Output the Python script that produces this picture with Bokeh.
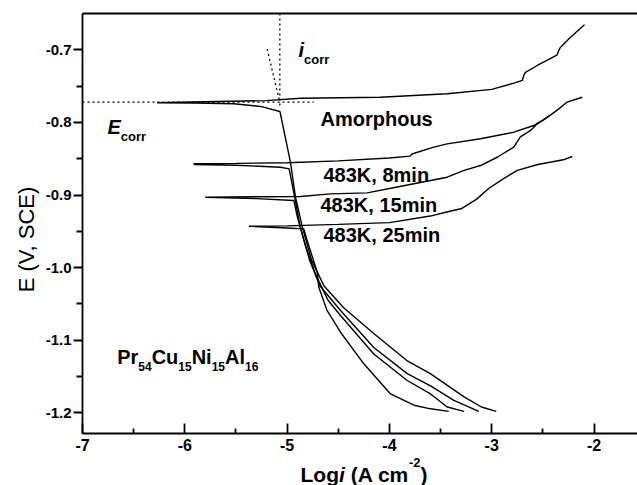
import math
from bokeh.plotting import figure
from bokeh.layouts import row, column
from bokeh.models import Range1d, LinearAxis, FixedTicker, Label
from bokeh.embed import file_html
from bokeh.resources import INLINE

# ---------------- data (log i in A cm^-2, E in V vs SCE) ----------------
# Amorphous: cathodic branch (bottom -> Ecorr) then anodic branch
amorph_cat_logi = [-2.956, -3.10, -3.27, -3.60, -3.83, -4.15, -4.45, -4.64, -4.76, -4.85, -4.918, -4.967, -5.07, -5.26, -5.52, -5.90, -6.27]
amorph_cat_E = [-1.198, -1.192, -1.178, -1.146, -1.128, -1.091, -1.055, -1.025, -0.990, -0.945, -0.903, -0.855, -0.785, -0.778, -0.7744, -0.7735, -0.773]
amorph_an_logi = [-6.27, -5.80, -5.20, -4.87, -4.09, -3.435, -3.0, -2.784, -2.70, -2.686, -2.67, -2.555, -2.40, -2.36, -2.345, -2.327, -2.262, -2.23, -2.093]
amorph_an_E = [-0.773, -0.7715, -0.770, -0.7667, -0.7653, -0.7606, -0.7545, -0.746, -0.742, -0.735, -0.731, -0.7216, -0.710, -0.707, -0.701, -0.6964, -0.6872, -0.6826, -0.6656]

# 483K, 8 min
m8_cat_logi = [-3.126, -3.37, -3.598, -3.826, -4.153, -4.478, -4.68, -4.78, -4.87, -4.93, -4.98, -5.065, -5.5, -5.91]
m8_cat_E = [-1.198, -1.183, -1.163, -1.146, -1.110, -1.059, -1.025, -0.990, -0.945, -0.900, -0.864, -0.8617, -0.859, -0.858]
m8_an_logi = [-5.91, -5.5, -5.0, -4.5, -4.0, -3.80, -3.78, -3.566, -3.435, -3.11, -2.784, -2.59, -2.50, -2.44]
m8_an_E = [-0.857, -0.8565, -0.8555, -0.853, -0.849, -0.8465, -0.8435, -0.834, -0.8295, -0.8226, -0.8135, -0.8043, -0.797, -0.791]

# 483K, 15 min
m15_cat_logi = [-3.27, -3.435, -3.598, -3.826, -4.153, -4.478, -4.60, -4.72, -4.82, -4.90, -4.934, -5.3, -5.80]
m15_cat_E = [-1.198, -1.192, -1.174, -1.1555, -1.119, -1.066, -1.045, -1.010, -0.970, -0.930, -0.9076, -0.905, -0.903]
m15_an_logi = [-5.80, -5.3, -4.869, -4.576, -4.217, -3.924, -3.598, -3.435, -3.27, -3.11, -2.946, -2.784, -2.72, -2.62, -2.555, -2.457, -2.35, -2.263, -2.115]
m15_an_E = [-0.903, -0.9025, -0.902, -0.8985, -0.897, -0.889, -0.880, -0.8755, -0.866, -0.8594, -0.848, -0.834, -0.820, -0.811, -0.802, -0.793, -0.782, -0.772, -0.7653]

# 483K, 25 min
m25_cat_logi = [-3.42, -3.598, -3.75, -3.989, -4.25, -4.478, -4.61, -4.69, -4.706, -4.81, -4.837, -5.0, -5.374]
m25_cat_E = [-1.198, -1.1945, -1.190, -1.174, -1.1325, -1.089, -1.059, -1.027, -1.006, -0.960, -0.9466, -0.9455, -0.943]
m25_an_logi = [-5.374, -5.0, -4.5, -4.0, -3.6, -3.4, -3.3, -3.15, -3.03, -2.88, -2.75, -2.55, -2.30, -2.213]
m25_an_E = [-0.943, -0.9425, -0.9405, -0.938, -0.929, -0.922, -0.919, -0.906, -0.891, -0.877, -0.866, -0.858, -0.8515, -0.847]

# Tafel construction (dotted)
ecorr_line_logi = [-7.0, -4.74]
ecorr_line_E = [-0.772, -0.772]
icorr_line_logi = [-5.071, -5.071]
icorr_line_E = [-0.65, -0.781]
tafel_line_logi = [-5.195, -5.07]
tafel_line_E = [-0.699, -0.773]

x_ticks = [-7, -6, -5, -4, -3, -2]
x_tick_labels = ["-7", "-6", "-5", "-4", "-3", "-2"]
x_minor = [-6.5, -5.5, -4.5, -3.5, -2.5]
y_ticks = [-1.2, -1.1, -1.0, -0.9, -0.8, -0.7]
y_tick_labels = ["-1.2", "-1.1", "-1.0", "-0.9", "-0.8", "-0.7"]
y_minor = [-1.15, -1.05, -0.95, -0.85, -0.75]

# ---------------- layout (page pixels) ----------------
PAGE_W, PAGE_H = 637, 485
LEFT_W = 40                 # strip holding the y title
MAIN_H = 455                # main figure height
FRAME_L, FRAME_T, FRAME_B = 82, 13, 433   # frame edges on the page
X0, X1 = -7.0, -1.575
Y0, Y1 = -1.2285, -0.65
FW = PAGE_W - FRAME_L
FH = FRAME_B - FRAME_T
FONT = "Liberation Sans"
BASE_FIX = 0.3   # Bokeh places the 'alphabetic' anchor ~0.3 em above the real baseline


def px2x(px):
    return X0 + (px - FRAME_L) * (X1 - X0) / FW


def py2y(py):
    return Y1 - (py - FRAME_T) * (Y1 - Y0) / FH


p = figure(width=PAGE_W - LEFT_W, height=MAIN_H, title=None,
           x_range=Range1d(X0, X1), y_range=Range1d(Y0, Y1),
           output_backend="svg", toolbar_location=None,
           min_border_left=FRAME_L - LEFT_W, min_border_right=0,
           min_border_top=FRAME_T, min_border_bottom=MAIN_H - FRAME_B)
p.grid.visible = False
p.outline_line_color = None
p.background_fill_color = "white"
p.border_fill_color = "white"

xa = p.xaxis[0]
xa.ticker = FixedTicker(ticks=x_ticks, minor_ticks=x_minor)
xa.major_label_overrides = {t: s for t, s in zip(x_ticks, x_tick_labels)}
xa.major_tick_in = 10
xa.major_tick_out = 0
xa.minor_tick_in = 5
xa.minor_tick_out = 0
xa.axis_line_width = 1.8
xa.major_tick_line_width = 1.8
xa.minor_tick_line_width = 1.8
xa.major_label_standoff = 5
xa.major_label_text_font = FONT
xa.major_label_text_font_style = "bold"
xa.major_label_text_font_size = "16px"
xa.major_label_text_color = "black"

ya = p.yaxis[0]
ya.ticker = FixedTicker(ticks=y_ticks, minor_ticks=y_minor)
ya.major_label_overrides = {t: s for t, s in zip(y_ticks, y_tick_labels)}
ya.major_tick_in = 0
ya.major_tick_out = 9
ya.minor_tick_in = 0
ya.minor_tick_out = 6
ya.axis_line_width = 1.8
ya.major_tick_line_width = 1.8
ya.minor_tick_line_width = 1.8
ya.major_label_standoff = 2
ya.major_label_text_font = FONT
ya.major_label_text_font_style = "bold"
ya.major_label_text_font_size = "15px"
ya.major_label_text_color = "black"

top = LinearAxis(ticker=FixedTicker(ticks=[]), major_tick_line_color=None,
                 minor_tick_line_color=None, major_label_text_font_size="0px",
                 axis_line_width=1.8)
p.add_layout(top, "above")

# curves
curves = [
    (amorph_cat_logi + amorph_an_logi, amorph_cat_E + amorph_an_E),
    (m8_cat_logi + m8_an_logi, m8_cat_E + m8_an_E),
    (m15_cat_logi + m15_an_logi, m15_cat_E + m15_an_E),
    (m25_cat_logi + m25_an_logi, m25_cat_E + m25_an_E),
]
for xs, ys in curves:
    p.line(xs, ys, line_color="black", line_width=1.4)

for xs, ys in [(ecorr_line_logi, ecorr_line_E), (icorr_line_logi, icorr_line_E),
               (tafel_line_logi, tafel_line_E)]:
    p.line(xs, ys, line_color="black", line_width=1.3, line_dash="2 3")

# text helpers
AW = {'P': .667, 'r': .389, 'C': .722, 'u': .611, 'N': .722, 'i': .278, 'A': .722,
      'l': .278, 'L': .611, 'o': .611, 'g': .611, ' ': .278, '(': .333, ')': .333,
      'c': .556, 'm': .889, '-': .333, 'E': .667}
for d in "0123456789":
    AW[d] = .556


def make_label(fig, x, y, text, size, style, angle=0.0, align="left"):
    fig.add_layout(Label(x=x, y=y, text=text, text_font=FONT,
                         text_font_style=style, text_font_size=f"{size}px",
                         text_color="black", text_align=align,
                         text_baseline="alphabetic", angle=angle))


def lab(text, px, py, size, style="bold"):
    make_label(p, px2x(px), py2y(py - BASE_FIX * size), text, size, style)


def run(parts, px, py, put=lab):
    for text, size, dy, style in parts:
        if text.strip():
            put(text, px, py + dy, size, style)
        px += sum(AW[c] for c in text) * size


# series labels
lab("Amorphous", 320, 124, 20)
lab("483K, 8min", 323, 180, 20)
lab("483K, 15min", 320, 210, 20)
lab("483K, 25min", 323, 240, 20)

# Ecorr / icorr
run([("E", 20, 0, "bold italic"), ("corr", 13, 8, "bold")], 107, 132)
run([("i", 20, 0, "bold italic"), ("corr", 13, 8, "bold")], 298, 55)

# alloy
run([("Pr", 20, 0, "bold"), ("54", 12, 8, "bold"), ("Cu", 20, 0, "bold"),
     ("15", 12, 8, "bold"), ("Ni", 20, 0, "bold"), ("15", 12, 8, "bold"),
     ("Al", 20, 0, "bold"), ("16", 12, 8, "bold")], 116.7, 362)


def strip(w, h, xr, yr):
    f = figure(width=w, height=h, title=None, x_range=Range1d(*xr), y_range=Range1d(*yr),
               output_backend="svg", toolbar_location=None,
               x_axis_location=None, y_axis_location=None,
               min_border_left=0, min_border_right=0, min_border_top=0, min_border_bottom=0)
    f.grid.visible = False
    f.outline_line_color = None
    f.border_fill_color = "white"
    f.background_fill_color = "white"
    return f


# ---------------- y title strip (left) ----------------
ly = strip(LEFT_W, PAGE_H, (0, LEFT_W), (0, PAGE_H))
make_label(ly, 33 - BASE_FIX * 22, PAGE_H - 239, "E (V, SCE)", 22, "normal",
           angle=math.pi / 2, align="center")

# ---------------- x title strip (bottom) ----------------
# its frame is aligned with the main frame (page x 82 .. 637) by the column layout
bx = strip(PAGE_W - LEFT_W, PAGE_H - MAIN_H, (FRAME_L, PAGE_W), (0, PAGE_H - MAIN_H))


def put_bottom(text, px, py, size, style):
    make_label(bx, px, PAGE_H - (py - BASE_FIX * size), text, size, style)


run([("Log", 21, 0, "bold"), ("i", 21, 0, "bold italic"), (" ", 21, 0, "bold"),
     ("(A cm", 21, 0, "bold"), ("-2", 13, -14, "bold"), (")", 21, 0, "bold")],
    300, 480, put=put_bottom)

layout = row(ly, column(p, bx))
open("out.html", "w").write(file_html(layout, INLINE))
